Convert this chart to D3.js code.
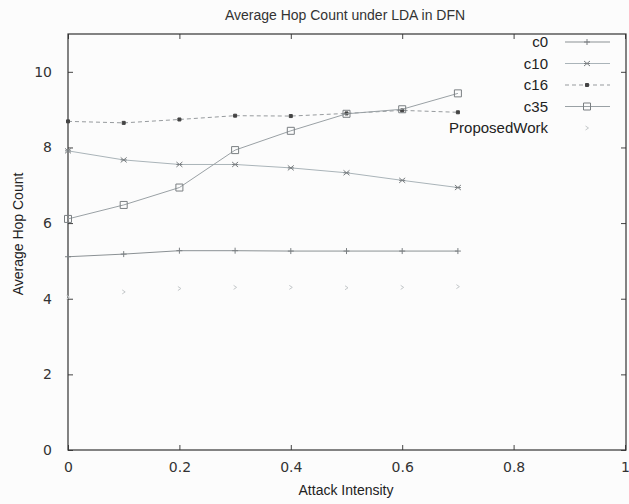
<!DOCTYPE html>
<html lang="en">
<head>
    <meta charset="UTF-8">
    <title>Average Hop Count under LDA in DFN</title>
    <script src="https://d3js.org/d3.v7.min.js"></script>
    <style>
        body {
            margin: 0;
            background-color: #ffffff;
        }
        svg {
            display: block;
            background-color: #fcfcfc;
        }
        .title {
            font-family: "Liberation Sans", Arial, sans-serif;
            font-size: 14px;
            fill: #333;
            text-anchor: middle;
        }
        .axis-label {
            font-family: "Liberation Sans", Arial, sans-serif;
            font-size: 14px;
            fill: #222;
            text-anchor: middle;
        }
        .axis text {
            font-family: "DejaVu Sans", sans-serif;
            font-size: 14px;
            fill: #333;
        }
        .axis line {
            stroke: #444;
        }
        .frame {
            fill: none;
            stroke: #333;
            stroke-width: 1.2px;
        }
        .line {
            fill: none;
            stroke-width: 1px;
        }
        .legend text {
            font-family: "Liberation Sans", Arial, sans-serif;
            font-size: 15px;
            fill: #222;
            text-anchor: end;
        }
    </style>
</head>
<body>
    <svg id="chart" width="629" height="504"></svg>

    <script>
        // Data
        const intensity = [0, 0.1, 0.2, 0.3, 0.4, 0.5, 0.6, 0.7];
        const c0 = [5.11, 5.18, 5.27, 5.27, 5.26, 5.26, 5.26, 5.26];
        const c10 = [7.91, 7.67, 7.55, 7.55, 7.46, 7.33, 7.13, 6.94];
        const c16 = [8.69, 8.65, 8.74, 8.84, 8.83, 8.90, 8.98, 8.93];
        const c35 = [6.11, 6.48, 6.94, 7.93, 8.44, 8.89, 9.01, 9.43];
        const proposedWork = [4.04, 4.18, 4.27, 4.30, 4.30, 4.29, 4.30, 4.32];

        const xTicks = [0, 0.2, 0.4, 0.6, 0.8, 1];
        const yTicks = [0, 2, 4, 6, 8, 10];

        // marker shapes (relative to the point)
        const markers = {
            plus: "M-3,0H3M0,-3V3",
            cross: "M-3,-2.5L3,2.5M-3,2.5L3,-2.5M-3,0H3",
            dot: "M-1.5,-1.5H1.5V1.5H-1.5Z",
            square: "M-3.5,-3.5H3.5V3.5H-3.5Z",
            tri: "M-1.5,-2L1.5,0L-1.5,2"
        };

        const series = [
            { name: "c0", values: c0, color: "#8b9194", dash: null, marker: "plus", fill: "none", line: true },
            { name: "c10", values: c10, color: "#aab4b9", dash: null, marker: "cross", fill: "none", line: true },
            { name: "c16", values: c16, color: "#979b9e", dash: "4,3", marker: "dot", fill: "#444", line: true },
            { name: "c35", values: c35, color: "#9aa1a5", dash: null, marker: "square", fill: "none", line: true },
            { name: "ProposedWork", values: proposedWork, color: "#c4c8ca", dash: null, marker: "tri", fill: "none", line: false }
        ];

        const svg = d3.select("#chart");
        const margin = { top: 34, right: 3, bottom: 54, left: 68 };
        const width = +svg.attr("width") - margin.left - margin.right;
        const height = +svg.attr("height") - margin.top - margin.bottom;

        const x = d3.scaleLinear().domain([0, 1]).range([0, width - 1]);
        const y = d3.scaleLinear().domain([0, 11]).range([height, 0]);

        const g = svg.append("g")
            .attr("transform", `translate(${margin.left},${margin.top})`);

        // Title
        svg.append("text")
            .attr("class", "title")
            .attr("x", margin.left + width / 2 - 2)
            .attr("y", 20)
            .text("Average Hop Count under LDA in DFN");

        // Axes with inward ticks on all four sides
        g.append("g")
            .attr("class", "axis")
            .attr("transform", `translate(0,${height})`)
            .call(d3.axisBottom(x).tickValues(xTicks).tickSize(-5).tickPadding(12)
                .tickFormat(d3.format("")))
            .call(a => a.select(".domain").remove());

        g.append("g")
            .attr("class", "axis")
            .call(d3.axisTop(x).tickValues(xTicks).tickSize(-5).tickFormat(""))
            .call(a => a.select(".domain").remove());

        g.append("g")
            .attr("class", "axis")
            .call(d3.axisLeft(y).tickValues(yTicks).tickSize(-5).tickPadding(16))
            .call(a => a.select(".domain").remove());

        g.append("g")
            .attr("class", "axis")
            .attr("transform", `translate(${width},0)`)
            .call(d3.axisRight(y).tickValues(yTicks).tickSize(-5).tickFormat(""))
            .call(a => a.select(".domain").remove());

        g.append("rect")
            .attr("class", "frame")
            .attr("x", 0)
            .attr("y", 0)
            .attr("width", width)
            .attr("height", height);

        // Axis labels
        svg.append("text")
            .attr("class", "axis-label")
            .attr("x", margin.left + width / 2 - 1)
            .attr("y", 495)
            .text("Attack Intensity");

        svg.append("text")
            .attr("class", "axis-label")
            .attr("transform", `translate(23,${margin.top + 200}) rotate(-90)`)
            .text("Average Hop Count");

        // Lines and markers
        const line = d3.line()
            .x((d, i) => x(intensity[i]))
            .y(d => y(d));

        const markStroke = s => s.marker === "dot" ? "#444" : (s.line ? "#7a7f82" : s.color);

        series.forEach(s => {
            if (s.line) {
                g.append("path")
                    .datum(s.values)
                    .attr("class", "line")
                    .attr("stroke", s.color)
                    .attr("stroke-dasharray", s.dash)
                    .attr("d", line);
            }
            g.selectAll(null)
                .data(s.values)
                .enter().append("path")
                .attr("transform", (d, i) => `translate(${x(intensity[i])},${y(d)})`)
                .attr("d", markers[s.marker])
                .attr("fill", s.fill)
                .attr("stroke", markStroke(s))
                .attr("stroke-width", 1);
        });

        // Legend
        const legend = svg.append("g").attr("class", "legend");
        series.forEach((s, i) => {
            const ly = 42 + i * 21.5;
            legend.append("text")
                .attr("x", 548)
                .attr("y", ly + 5)
                .text(s.name);
            if (s.line) {
                legend.append("line")
                    .attr("x1", 565).attr("x2", 610)
                    .attr("y1", ly).attr("y2", ly)
                    .attr("stroke", s.color)
                    .attr("stroke-dasharray", s.dash);
            }
            legend.append("path")
                .attr("transform", `translate(587,${ly})`)
                .attr("d", markers[s.marker])
                .attr("fill", s.fill)
                .attr("stroke", markStroke(s));
        });
    </script>
</body>
</html>
